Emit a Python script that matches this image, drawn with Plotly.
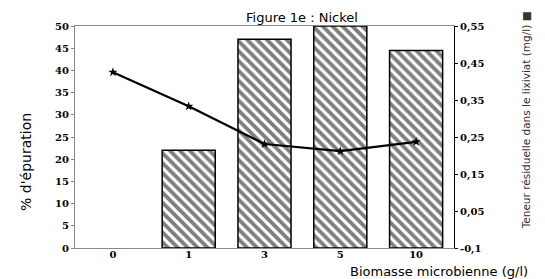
import plotly.graph_objects as go

categories = ["0", "1", "3", "5", "10"]
epuration = [None, 22, 47, 50, 44.5]
teneur = [0.425, 0.333, 0.231, 0.212, 0.237]
right_tickvals = [-0.05, 0.05, 0.15, 0.25, 0.35, 0.45, 0.55]
right_ticktext = ["-0,1", "0,05", "0,15", "0,25", "0,35", "0,45", "0,55"]
left_tickvals = [0, 5, 10, 15, 20, 25, 30, 35, 40, 45, 50]

fig = go.Figure()
fig.add_trace(go.Bar(
    x=categories, y=epuration, width=0.7,
    marker=dict(color="white", line=dict(color="black", width=1.5),
                pattern=dict(shape="\\", fgcolor="black", bgcolor="white", size=7, solidity=0.55)),
    showlegend=False,
))
fig.add_trace(go.Scatter(
    x=categories, y=teneur, yaxis="y2", mode="lines+markers",
    line=dict(color="black", width=2.2),
    marker=dict(symbol="star", size=7, color="black"),
    showlegend=False,
))

tickfont = dict(family="DejaVu Serif", size=10, color="black", weight="bold")
fig.update_layout(
    width=545, height=279,
    margin=dict(l=67, r=99, t=16, b=39),
    paper_bgcolor="white", plot_bgcolor="white",
    xaxis=dict(type="category", showgrid=False, tickfont=tickfont,
               showline=True, linecolor="#888", mirror=True, ticks="",
               ticklabelstandoff=-3),
    yaxis=dict(range=[0, 50], tickvals=left_tickvals, showgrid=False, zeroline=False,
               tickfont=tickfont, showline=True, linecolor="#888", ticks="outside",
               ticklen=3, tickcolor="#888"),
    yaxis2=dict(overlaying="y", side="right", range=[-0.05, 0.55], tickvals=right_tickvals,
                ticktext=right_ticktext, showgrid=False, zeroline=False, tickfont=tickfont,
                showline=True, linecolor="black", ticks="outside", ticklen=3, tickcolor="black"),
    bargap=0.3,
    annotations=[
        dict(text="Figure 1e : Nickel", xref="paper", yref="paper", x=0.60, y=1,
             yanchor="middle", yshift=9, showarrow=False,
             font=dict(family="DejaVu Sans", size=13, color="black")),
        dict(text="% d'épuration", xref="paper", yref="paper", x=-0.128, y=0.39,
             xanchor="center", yanchor="middle", textangle=-90, showarrow=False,
             font=dict(family="DejaVu Sans", size=14, color="black")),
        dict(text="Biomasse microbienne (g/l)", xref="paper", yref="paper", x=1.2, y=0,
             xanchor="right", yanchor="middle", yshift=-23, showarrow=False,
             font=dict(family="DejaVu Sans", size=13, color="black")),
        dict(text="Teneur résiduelle dans le lixiviat (mg/l) ■", xref="paper", yref="paper",
             x=1.19, y=0.575, xanchor="center", yanchor="middle", textangle=-90, showarrow=False,
             font=dict(family="DejaVu Sans", size=10.5, color="#333")),
    ],
)
fig.write_html("out.html")
